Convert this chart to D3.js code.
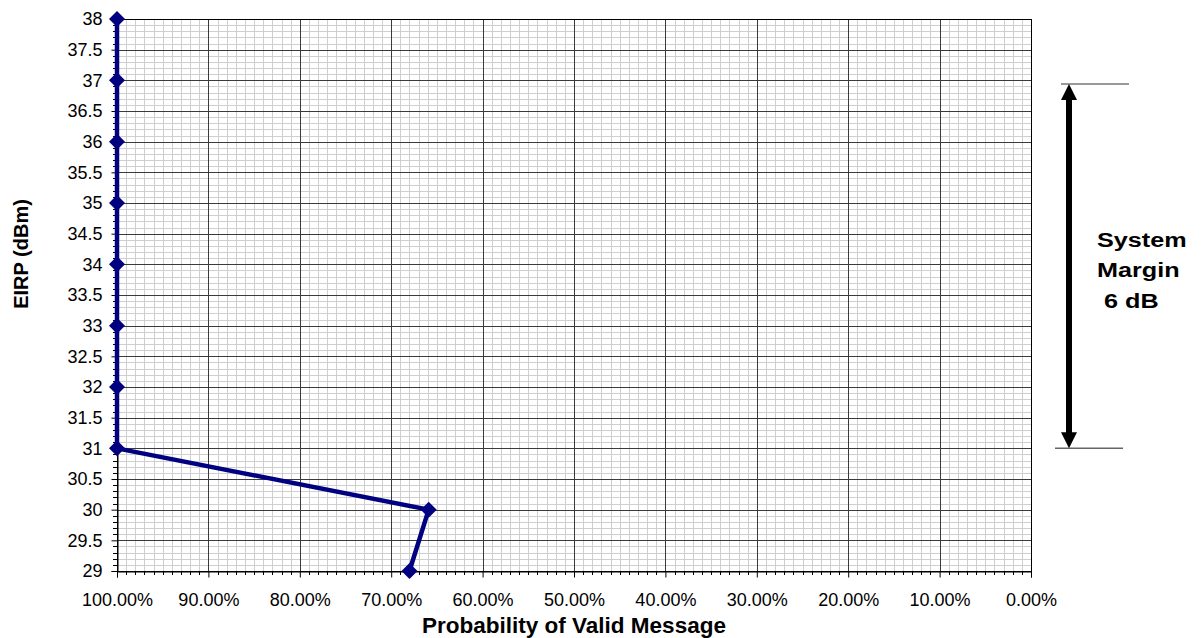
<!DOCTYPE html>
<html><head><meta charset="utf-8">
<script src="https://cdn.jsdelivr.net/npm/d3@7/dist/d3.min.js"></script>
<style>body{margin:0;background:#fff}svg{display:block}text{font-family:"Liberation Sans",Arial,sans-serif}</style>
</head><body><svg id="c" width="1202" height="638"></svg>
<script>
const eirp = [38, 37, 36, 35, 34, 33, 32, 31, 30, 29];
const probability = [1.0, 1.0, 1.0, 1.0, 1.0, 1.0, 1.0, 1.0, 0.659, 0.680];
const xTicks = [1.0, 0.9, 0.8, 0.7, 0.6, 0.5, 0.4, 0.3, 0.2, 0.1, 0.0];
const yTicks = d3.range(29, 38.01, 0.5);
const marginRange = [36.94, 31];
const marginLabel = ["System", "Margin", " 6 dB"];

const svg = d3.select("#c");
const L = 117, R = 1031, T = 19, B = 571;
const x = d3.scaleLinear().domain([1, 0]).range([L, R]);
const y = d3.scaleLinear().domain([29, 38]).range([B, T]);

const g = svg.append("g");
// minor grid
const minorX = d3.range(0, 101, 1).filter(v => v % 10 !== 0).map(v => v / 100);
const minorY = d3.range(290, 381, 1).filter(v => v % 5 !== 0).map(v => v / 10);
g.selectAll(".mx").data(minorX).join("line")
  .attr("x1", d => Math.round(x(d)) + 0.5).attr("x2", d => Math.round(x(d)) + 0.5)
  .attr("y1", T).attr("y2", B).attr("stroke", "#cfcfcf").attr("stroke-width", 1);
g.selectAll(".my").data(minorY).join("line")
  .attr("y1", d => Math.round(y(d)) + 0.5).attr("y2", d => Math.round(y(d)) + 0.5)
  .attr("x1", L).attr("x2", R).attr("stroke", "#cfcfcf").attr("stroke-width", 1);
// major grid
g.selectAll(".Mx").data(xTicks).join("line")
  .attr("x1", d => Math.round(x(d)) + 0.5).attr("x2", d => Math.round(x(d)) + 0.5)
  .attr("y1", T).attr("y2", B).attr("stroke", "#3a3a3a").attr("stroke-width", 1);
g.selectAll(".My").data(yTicks).join("line")
  .attr("y1", d => Math.round(y(d)) + 0.5).attr("y2", d => Math.round(y(d)) + 0.5)
  .attr("x1", L).attr("x2", R).attr("stroke", "#3a3a3a").attr("stroke-width", 1);
// border
g.append("rect").attr("x", L + 0.5).attr("y", T + 0.5).attr("width", R - L).attr("height", B - T)
  .attr("fill", "none").attr("stroke", "#000").attr("stroke-width", 1);

// axes
const yAxis = d3.axisLeft(y).tickValues(yTicks).tickFormat(d => d3.format("")(d)).tickSize(6).tickPadding(9);
const ya = svg.append("g").attr("transform", `translate(${L + 0.5},0)`).call(yAxis);
const xAxis = d3.axisBottom(x).tickValues(xTicks).tickFormat(d3.format(".2%")).tickSize(6).tickPadding(16);
const xa = svg.append("g").attr("transform", `translate(0,${B + 0.5})`).call(xAxis);
// minor ticks
svg.append("g").attr("transform", `translate(0,${B})`).selectAll("line").data(minorX).join("line")
  .attr("x1", d => Math.round(x(d)) + 0.5).attr("x2", d => Math.round(x(d)) + 0.5)
  .attr("y1", 0).attr("y2", 4).attr("stroke", "#000");
svg.append("g").selectAll("line").data(minorY).join("line")
  .attr("y1", d => Math.round(y(d)) + 0.5).attr("y2", d => Math.round(y(d)) + 0.5)
  .attr("x1", L - 4).attr("x2", L).attr("stroke", "#000");
[ya, xa].forEach(a => {
  a.select(".domain").attr("stroke", "#000");
  a.selectAll(".tick line").attr("stroke", "#000");
  a.selectAll("text").attr("font-size", 18).attr("fill", "#000").style("font-family", '"Liberation Sans",Arial,sans-serif');
});

// data
const pts = eirp.map((e, i) => [probability[i], e]);
svg.append("path").datum(pts)
  .attr("d", d3.line().x(d => x(d[0])).y(d => y(d[1])))
  .attr("fill", "none").attr("stroke", "#000080").attr("stroke-width", 4.5).attr("stroke-linejoin", "round");
svg.selectAll(".pt").data(pts).join("path")
  .attr("transform", d => `translate(${x(d[0])},${y(d[1])})`)
  .attr("d", "M0,-8L8,0L0,8L-8,0Z").attr("fill", "#000080");

// titles
svg.append("text").attr("x", 574).attr("y", 633).attr("text-anchor", "middle")
  .attr("font-size", 22.5).attr("font-weight", "bold").text("Probability of Valid Message");
svg.append("text").attr("transform", `translate(28,254) rotate(-90)`).attr("text-anchor", "middle")
  .attr("font-size", 20).attr("font-weight", "bold").text("EIRP (dBm)");

// margin annotation
const yTop = y(marginRange[0]), yBot = y(marginRange[1]);
svg.append("line").attr("x1", 1061).attr("x2", 1129).attr("y1", yTop).attr("y2", yTop).attr("stroke", "#777").attr("stroke-width", 1.5);
svg.append("line").attr("x1", 1055).attr("x2", 1123).attr("y1", yBot).attr("y2", yBot).attr("stroke", "#666").attr("stroke-width", 1.5);
const ax = 1069;
svg.append("line").attr("x1", ax).attr("x2", ax).attr("y1", yTop + 14).attr("y2", yBot - 14).attr("stroke", "#000").attr("stroke-width", 6);
svg.append("path").attr("d", `M${ax},${yTop}L${ax + 8},${yTop + 16}L${ax - 8},${yTop + 16}Z`).attr("fill", "#000");
svg.append("path").attr("d", `M${ax},${yBot}L${ax + 8},${yBot - 16}L${ax - 8},${yBot - 16}Z`).attr("fill", "#000");
svg.append("g").attr("transform", "translate(1097,0) scale(1.2,1)")
  .append("text").attr("font-size", 21).attr("font-weight", "bold")
  .selectAll("tspan").data(marginLabel).join("tspan")
  .attr("x", 0).attr("y", (d, i) => 247 + i * 30.5).attr("xml:space", "preserve").style("white-space", "pre").text(d => d);
</script></body></html>
